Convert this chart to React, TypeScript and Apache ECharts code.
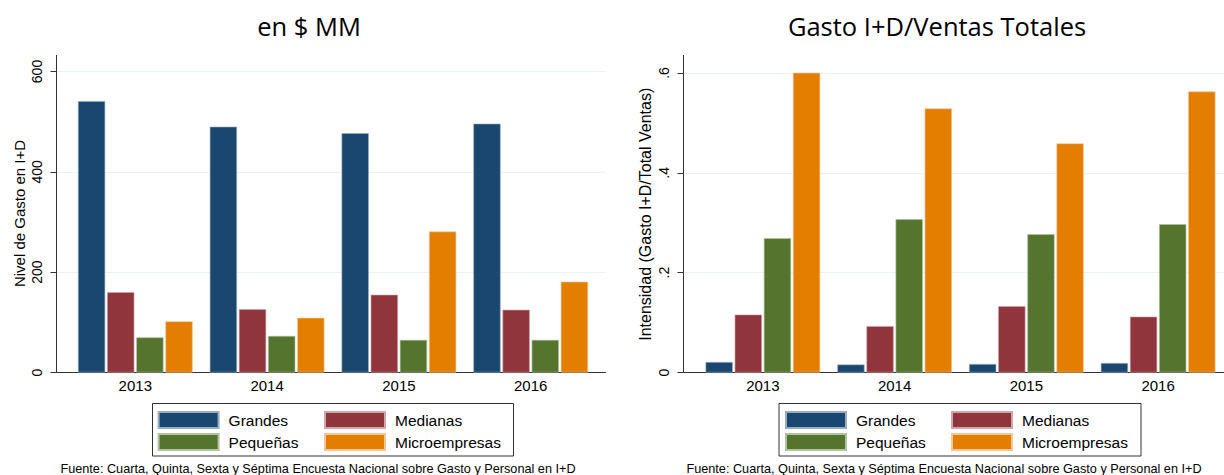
import React, { useEffect, useRef } from "react";
import * as echarts from "echarts";

const years = ["2013", "2014", "2015", "2016"];
const seriesNames = ["Grandes", "Medianas", "Pequeñas", "Microempresas"];
const seriesColors = ["#1a476f", "#90353b", "#55752f", "#e37e00"];
const seriesEdges = ["#9aafc2", "#cfa6a9", "#b3c2a1", "#f2c89a"];

// Left panel: Nivel de Gasto en I+D (en $ MM)
const gastoGrandes = [541, 490, 477, 496];
const gastoMedianas = [160, 126, 155, 125];
const gastoPequenas = [70, 73, 65, 65];
const gastoMicro = [102, 109, 281, 181];

// Right panel: Intensidad (Gasto I+D / Total Ventas)
const intGrandes = [0.021, 0.016, 0.017, 0.019];
const intMedianas = [0.116, 0.093, 0.133, 0.112];
const intPequenas = [0.269, 0.307, 0.277, 0.297];
const intMicro = [0.603, 0.529, 0.459, 0.563];

const leftTitle = "en $ MM";
const rightTitle = "Gasto I+D/Ventas Totales";
const leftYName = "Nivel de Gasto en I+D";
const rightYName = "Intensidad (Gasto I+D/Total Ventas)";
const caption = "Fuente: Cuarta, Quinta, Sexta y Séptima Encuesta Nacional sobre Gasto y Personal en I+D";

const SANS = "'Liberation Sans', Arial, sans-serif";
const TITLE_FONT = "'Open Sans', sans-serif";
const AXIS = "#333";
const GRID = "#eaf2f3";

export default function App() {
  const ref = useRef<HTMLDivElement>(null);

  useEffect(() => {
    if (!ref.current) return;
    const chart = echarts.init(ref.current, undefined, { renderer: "svg" });

    const leftData = [gastoGrandes, gastoMedianas, gastoPequenas, gastoMicro];
    const rightData = [intGrandes, intMedianas, intPequenas, intMicro];

    const mkSeries = (data: number[][], axisIdx: number) =>
      data.map((d, i) => ({
        type: "bar",
        name: seriesNames[i],
        xAxisIndex: axisIdx,
        yAxisIndex: axisIdx,
        data: d,
        barGap: "7%",
        barCategoryGap: "13%",
        itemStyle: { color: seriesColors[i], borderColor: seriesEdges[i], borderWidth: 0.6 },
      }));

    const outerX = (g: number) => ({
      gridIndex: g,
      type: "value",
      min: 0,
      max: 1,
      axisLine: { show: true, lineStyle: { color: AXIS, width: 1 } },
      axisTick: { show: false },
      axisLabel: { show: false },
      splitLine: { show: false },
    });
    const innerX = (g: number) => ({
      gridIndex: g,
      type: "category",
      data: years,
      axisLine: { show: false },
      axisTick: { show: false },
      axisLabel: { fontSize: 15, color: "#000", fontFamily: SANS, margin: 5 },
      splitLine: { show: false },
    });

    const fmtRight = (v: number) => (v === 0 ? "0" : String(Math.round(v * 10) / 10).replace(/^0/, ""));

    const outerY = (g: number, max: number, interval: number, name: string, nameSize: number, fmt?: any) => ({
      gridIndex: g,
      type: "value",
      min: 0,
      max,
      interval,
      name,
      nameLocation: "middle",
      nameGap: 30,
      nameTextStyle: { fontSize: nameSize, color: "#000", fontFamily: SANS, padding: [0, 0, 0, 17] },
      axisLine: { show: true, lineStyle: { color: AXIS, width: 1 } },
      axisTick: { show: true, length: 6, lineStyle: { color: AXIS } },
      axisLabel: { rotate: 90, margin: 13, fontSize: 14, color: "#000", fontFamily: SANS, formatter: fmt },
      splitLine: { show: true, lineStyle: { color: GRID, width: 1 } },
    });
    const innerY = (g: number, max: number) => ({
      gridIndex: g,
      type: "value",
      min: 0,
      max,
      show: false,
      splitLine: { show: false },
    });

    const legendItem = (name: string, left: number, top: number) => ({
      data: [name],
      left,
      top,
      padding: 0,
      itemWidth: 60,
      itemHeight: 16,
      icon: "rect",
      selectedMode: false,
      textStyle: { fontSize: 15.5, color: "#000", fontFamily: SANS, padding: [0, 0, 0, 5] },
    });

    const option: any = {
      animation: false,
      backgroundColor: "#fff",
      title: [
        { text: leftTitle, left: 304, top: 8, textAlign: "center", textStyle: { fontSize: 25.5, fontWeight: "normal", color: "#000", fontFamily: TITLE_FONT } },
        { text: rightTitle, left: 932, top: 8, textAlign: "center", textStyle: { fontSize: 25.5, fontWeight: "normal", color: "#000", fontFamily: TITLE_FONT } },
        { text: caption, left: 313, top: 457, textAlign: "center", textStyle: { fontSize: 12.7, fontWeight: "normal", color: "#000", fontFamily: SANS } },
        { text: caption, left: 939, top: 457, textAlign: "center", textStyle: { fontSize: 12.7, fontWeight: "normal", color: "#000", fontFamily: SANS } },
      ],
      grid: [
        { left: 56.5, top: 71.5, width: 549, height: 301 },
        { left: 69.4, top: 71.5, width: 527.2, height: 301 },
        { left: 683.5, top: 73, width: 541, height: 299.5 },
        { left: 697, top: 73, width: 527, height: 299.5 },
      ],
      xAxis: [outerX(0), innerX(1), outerX(2), innerX(3)],
      yAxis: [
        outerY(0, 600, 200, leftYName, 15),
        innerY(1, 600),
        outerY(2, 0.6, 0.2, rightYName, 16, fmtRight),
        innerY(3, 0.6),
      ],
      legend: [
        legendItem(seriesNames[0], 157.6, 411),
        legendItem(seriesNames[1], 324, 411),
        legendItem(seriesNames[2], 157.6, 433),
        legendItem(seriesNames[3], 324, 433),
        legendItem(seriesNames[0], 785, 411),
        legendItem(seriesNames[1], 951, 411),
        legendItem(seriesNames[2], 785, 433),
        legendItem(seriesNames[3], 951, 433),
      ],
      graphic: [
        { type: "line", shape: { x1: 56.5, y1: 55, x2: 56.5, y2: 72 }, style: { stroke: AXIS, lineWidth: 1 } },
        { type: "line", shape: { x1: 683.5, y1: 55, x2: 683.5, y2: 73.5 }, style: { stroke: AXIS, lineWidth: 1 } },
        { type: "rect", shape: { x: 152.5, y: 403.5, width: 361, height: 52.5 }, style: { fill: "none", stroke: AXIS, lineWidth: 1 } },
        { type: "rect", shape: { x: 779, y: 403.5, width: 362, height: 52.5 }, style: { fill: "none", stroke: AXIS, lineWidth: 1 } },
      ],
      series: [...mkSeries(leftData, 1), ...mkSeries(rightData, 3)],
    };

    chart.setOption(option);
    return () => chart.dispose();
  }, []);

  return (
    <div
      ref={ref}
      style={{ position: "absolute", left: 0, top: 0, width: 1224, height: 475, background: "#fff" }}
    />
  );
}
